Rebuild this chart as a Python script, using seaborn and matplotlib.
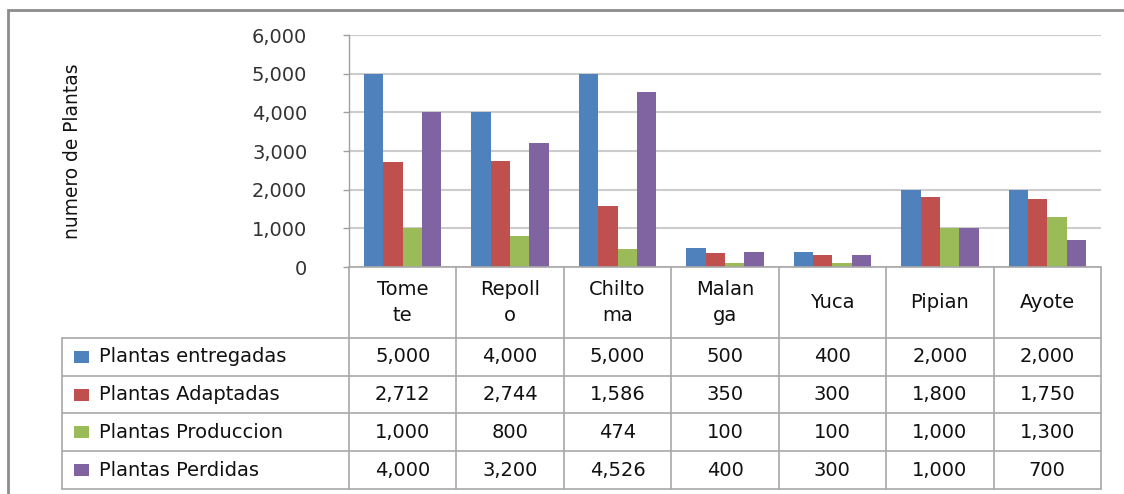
import matplotlib
matplotlib.use("Agg")
import matplotlib.pyplot as plt
import matplotlib.transforms as mtransforms
from matplotlib import font_manager
from matplotlib.patches import Rectangle
from matplotlib.lines import Line2D
import seaborn as sns
import pandas as pd

categories = ["Tomete", "Repollo", "Chiltoma", "Malanga", "Yuca", "Pipian", "Ayote"]
cat_labels = ["Tome\nte", "Repoll\no", "Chilto\nma", "Malan\nga", "Yuca", "Pipian", "Ayote"]
series = ["Plantas entregadas", "Plantas Adaptadas", "Plantas Produccion", "Plantas Perdidas"]
entregadas = [5000, 4000, 5000, 500, 400, 2000, 2000]
adaptadas = [2712, 2744, 1586, 350, 300, 1800, 1750]
produccion = [1000, 800, 474, 100, 100, 1000, 1300]
perdidas = [4000, 3200, 4526, 400, 300, 1000, 700]
colors = ["#4F81BD", "#C0504D", "#9BBB59", "#8064A2"]
yticks = [0, 1000, 2000, 3000, 4000, 5000, 6000]

values = [entregadas, adaptadas, produccion, perdidas]
rows = []
for s, vals in zip(series, values):
    for c, v in zip(categories, vals):
        rows.append({"cat": c, "serie": s, "val": v})
df = pd.DataFrame(rows)

sns.set_theme(style="white")
plt.rcParams["font.family"] = ["DejaVu Sans"]

installed = {f.name for f in font_manager.fontManager.ttflist}
if "Liberation Sans Narrow" in installed:
    ylab_family, ylab_size = "Liberation Sans Narrow", 15.5
else:
    ylab_family, ylab_size = "DejaVu Sans", 13.4

W, H = 1124, 494
fig = plt.figure(figsize=(W / 100, H / 100), dpi=100)

def fx(px):
    return px / W

def fy(py):
    return 1 - py / H

ax_l, ax_r, ax_t, ax_b = 349, 1101, 35, 267
ax = fig.add_axes([fx(ax_l), fy(ax_b), fx(ax_r - ax_l), (ax_b - ax_t) / H])

sns.barplot(data=df, x="cat", y="val", hue="serie", order=categories,
            hue_order=series, palette=colors, width=0.72, gap=0,
            saturation=1, ax=ax, legend=False, linewidth=0)

ax.set_ylim(0, 6000)
ax.set_xlim(-0.5, len(categories) - 0.5)
ax.set_yticks(yticks)
ax.set_yticklabels([f"{v:,}" for v in yticks], fontsize=14, color="#333333")
ax.set_xticks([])
ax.set_xlabel("")
ax.set_ylabel("")
ax.yaxis.grid(True, color="#cccccc", linewidth=1.5)
ax.set_axisbelow(True)
for sp in ["top", "right", "bottom"]:
    ax.spines[sp].set_visible(False)
ax.spines["left"].set_color("#a0a0a0")
ax.spines["left"].set_linewidth(1.0)
ax.tick_params(axis="y", which="both", left=True, length=4, width=1,
               color="#a0a0a0", pad=26)

# y label
fig.text(fx(72), fy(151), "numero de Plantas", rotation=90, ha="center", va="center",
         fontsize=ylab_size, family=ylab_family, color="#111111")

# outer frame
fig.patches.append(Rectangle((fx(8), fy(H + 10)), fx(W + 20), H / H,
                             transform=fig.transFigure, fill=False,
                             edgecolor="#8c8c8c", linewidth=2))

# data table
trans = mtransforms.blended_transform_factory(ax.transData, fig.transFigure)
line_c = "#a8a8a8"
row_b = [338, 376, 413, 451, 489]
tbl_left_px = 62
for i in range(len(categories) + 1):
    xb = i - 0.5
    fig.add_artist(Line2D([xb, xb], [fy(ax_b), fy(row_b[-1])], transform=trans,
                          color=line_c, linewidth=1.2))
fig.add_artist(Line2D([fx(tbl_left_px), fx(tbl_left_px)], [fy(row_b[0]), fy(row_b[-1])],
                      transform=fig.transFigure, color=line_c, linewidth=1.2))
fig.add_artist(Line2D([-0.5, len(categories) - 0.5], [fy(ax_b), fy(ax_b)], transform=trans,
                      color=line_c, linewidth=1.2))
for yb in row_b:
    fig.add_artist(Line2D([fx(tbl_left_px), fx(ax_r)], [fy(yb), fy(yb)],
                          transform=fig.transFigure, color=line_c, linewidth=1.2))

for i, lab in enumerate(cat_labels):
    fig.text(i, fy((ax_b + row_b[0]) / 2), lab, transform=trans, ha="center", va="center",
             fontsize=14, color="#111111", linespacing=1.5)

for r, (s, vals, col) in enumerate(zip(series, values, colors)):
    yc = fy((row_b[r] + row_b[r + 1]) / 2)
    fig.patches.append(Rectangle((fx(74), yc - 6 / H), fx(15), 12 / H,
                                 transform=fig.transFigure, facecolor=col, edgecolor="none"))
    fig.text(fx(99), yc, s, ha="left", va="center", fontsize=14, color="#111111")
    for i, v in enumerate(vals):
        fig.text(i, yc, f"{v:,}", transform=trans, ha="center", va="center",
                 fontsize=14, color="#111111")

fig.savefig("out.png", dpi=100, facecolor="white")
